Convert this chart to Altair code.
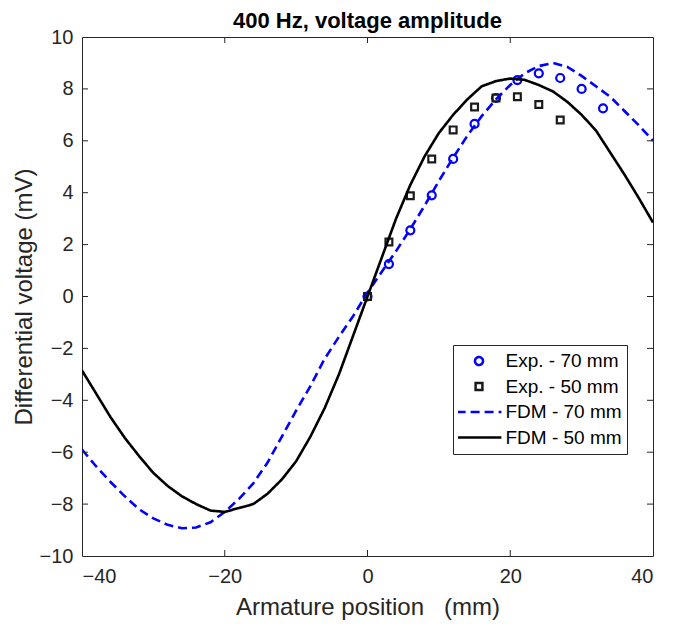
import altair as alt
import pandas as pd

# ---------------- data ----------------
x_fdm = list(range(-40, 41, 2))
fdm70 = [-5.9, -6.55, -7.15, -7.7, -8.2, -8.55, -8.8, -8.93, -8.9, -8.7,
         -8.3, -7.8, -7.2, -6.4, -5.4, -4.4, -3.45, -2.4, -1.55, -0.75,
         0.15, 0.95, 1.75, 2.6, 3.5, 4.45, 5.35, 6.2, 6.95, 7.6,
         8.15, 8.6, 8.88, 9.0, 8.85, 8.5, 8.1, 7.7, 7.15, 6.6, 6.0]
fdm50 = [-2.85, -3.75, -4.65, -5.45, -6.15, -6.8, -7.3, -7.7, -8.0, -8.25,
         -8.3, -8.15, -8.0, -7.6, -7.05, -6.35, -5.4, -4.3, -3.0, -1.5,
         0.0, 1.5, 3.0, 4.3, 5.4, 6.3, 7.0, 7.6, 8.1, 8.3,
         8.4, 8.35, 8.15, 7.9, 7.5, 7.0, 6.4, 5.55, 4.7, 3.8, 2.85]

x_exp70 = [0, 3, 6, 9, 12, 15, 18, 21, 24, 27, 30, 33]
exp70 = [0.0, 1.25, 2.55, 3.9, 5.3, 6.65, 7.65, 8.34, 8.6, 8.42, 8.0, 7.25]
x_exp50 = [0, 3, 6, 9, 12, 15, 18, 21, 24, 27]
exp50 = [0.0, 2.1, 3.88, 5.3, 6.42, 7.3, 7.65, 7.7, 7.4, 6.8]

series = ["Exp. - 70 mm", "Exp. - 50 mm", "FDM - 70 mm", "FDM - 50 mm"]
x_ticks = [-40, -20, 0, 20, 40]
y_ticks = [-10, -8, -6, -4, -2, 0, 2, 4, 6, 8, 10]
x_inner = [-20, 0, 20]
y_inner = [-8, -6, -4, -2, 0, 2, 4, 6, 8]

# ---------------- styling ----------------
colors = ["#0000ff", "#1a1a1a", "#0000ff", "#000000"]
# circle, small square, and long horizontal strokes for the legend line entries
shapes = ["circle",
          "M-0.85,-0.85H0.85V0.85H-0.85Z",
          "M-5.6,0H5.6",
          "M-5.6,0H5.6"]
dashes = [[1, 0], [1, 0], [9, 5], [1, 0]]
W, H = 571, 519
AX = "#262626"
FONT = "Liberation Sans"

fdm_df = pd.DataFrame({
    "x": x_fdm + x_fdm,
    "y": fdm70 + fdm50,
    "series": [series[2]] * len(x_fdm) + [series[3]] * len(x_fdm),
})
exp_df = pd.DataFrame({
    "x": x_exp70 + x_exp50,
    "y": exp70 + exp50,
    "series": [series[0]] * len(x_exp70) + [series[1]] * len(x_exp50),
})

xs = alt.Scale(domain=[-40, 40], nice=False, zero=False)
ys = alt.Scale(domain=[-10, 10], nice=False, zero=False)
leg = alt.Legend(title=None)

x_axis = alt.Axis(values=x_ticks, title="Armature position\u00a0\u00a0\u00a0(mm)")
y_axis = alt.Axis(values=y_ticks, title="Differential voltage (mV)")
x_enc = alt.X("x:Q", scale=xs, axis=x_axis)
y_enc = alt.Y("y:Q", scale=ys, axis=y_axis)
color = alt.Color("series:N", scale=alt.Scale(domain=series, range=colors), legend=leg)

points = alt.Chart(exp_df).mark_point(filled=False, strokeWidth=2.2, opacity=1, size=64).encode(
    x=x_enc, y=y_enc, color=color,
    shape=alt.Shape("series:N", scale=alt.Scale(domain=series, range=shapes), legend=leg),
)

lines = alt.Chart(fdm_df).mark_line(strokeWidth=2.6, clip=True).encode(
    x=x_enc, y=y_enc, color=color,
    strokeDash=alt.StrokeDash("series:N", scale=alt.Scale(domain=series, range=dashes), legend=leg),
)

xt = pd.DataFrame({"x": x_inner})
yt = pd.DataFrame({"y": y_inner})
tick_b = alt.Chart(xt).mark_rule(color=AX, strokeWidth=1).encode(x=x_enc, y=alt.value(H), y2=alt.value(H - 6))
tick_t = alt.Chart(xt).mark_rule(color=AX, strokeWidth=1).encode(x=x_enc, y=alt.value(0), y2=alt.value(6))
tick_l = alt.Chart(yt).mark_rule(color=AX, strokeWidth=1).encode(y=y_enc, x=alt.value(0), x2=alt.value(6))
tick_r = alt.Chart(yt).mark_rule(color=AX, strokeWidth=1).encode(y=y_enc, x=alt.value(W), x2=alt.value(W - 6))

chart = alt.layer(points, lines, tick_b, tick_t, tick_l, tick_r).properties(
    width=W, height=H,
    title=alt.Title("400 Hz, voltage amplitude", fontSize=22, fontWeight="bold",
                    font=FONT, color="#000000", anchor="middle", frame="group", offset=-6),
    autosize=alt.AutoSizeParams(type="none"),
    padding={"left": 74, "top": 29, "right": 24, "bottom": 66},
).configure_view(
    stroke=AX, strokeWidth=1
).configure_axis(
    grid=False, ticks=False, domain=False,
    labelFont=FONT, labelFontSize=20, labelColor=AX, labelPadding=9,
    titleFont=FONT, titleFontSize=24, titleColor=AX, titleFontWeight="normal",
).configure_axisX(
    titlePadding=9, labelPadding=10
).configure_axisY(
    titlePadding=3
).configure_legend(
    orient="none", legendX=371, legendY=308,
    strokeColor=AX, fillColor="#ffffff", padding=5,
    labelFont=FONT, labelFontSize=19, labelColor="#000000",
    symbolSize=64, symbolOffset=11.5, labelOffset=17,
    symbolStrokeWidth=2.5, clipHeight=22, rowPadding=3.5,
    symbolFillColor="transparent",
)

chart.save("out.html", embed_options={"renderer": "svg", "actions": False})
